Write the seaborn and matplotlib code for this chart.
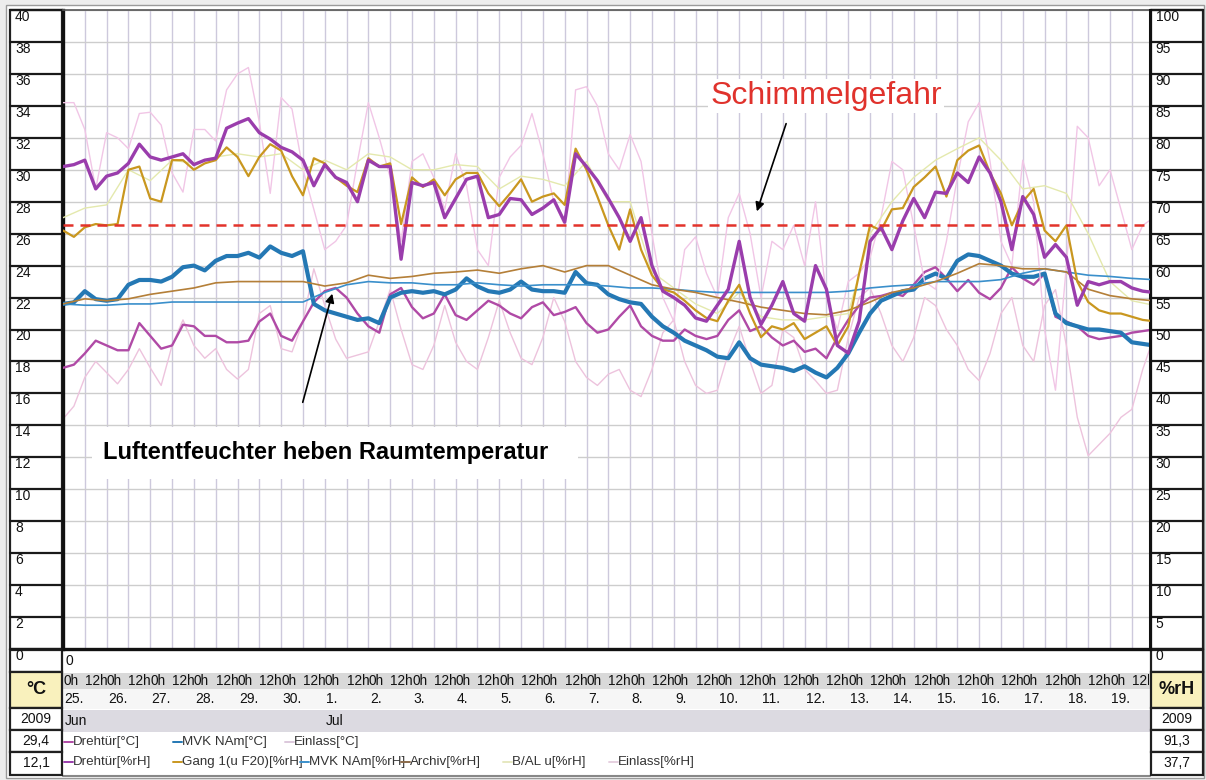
import numpy as np
import matplotlib
matplotlib.use("Agg")
import matplotlib.pyplot as plt
import matplotlib.transforms as mtransforms
from matplotlib.patches import Rectangle
import seaborn as sns

sns.set_style("white")
plt.rcParams['font.family'] = ['Liberation Sans', 'DejaVu Sans']

# ---------------- data ----------------
# time in hours after 25 Jun 2009 0h
hours_q = np.arange(0, 601, 6)     # 6-hourly readings
hours_h = np.arange(0, 601, 12)    # 12-hourly readings (smooth series)

drehtuer_rh = [75.5, 75.8, 76.5, 72.0, 74.0, 74.5, 76.0, 79.0, 77.0, 76.5, 77.0, 77.5, 75.8, 76.5, 76.8,
               81.5, 82.3, 83.0, 80.8, 79.8, 78.5, 77.8, 76.5, 72.5, 75.8,
               73.8, 73.0, 70.0, 76.5, 75.5, 75.5, 61.0, 73.0, 72.5, 73.0, 67.5, 70.5, 73.5, 74.0, 67.5,
               68.0, 70.5, 70.3, 68.0, 69.0, 70.3, 66.8, 77.5, 75.5, 73.3, 70.5,
               67.5, 63.8, 67.5, 60.0, 56.0, 55.0, 53.8, 51.8, 51.3, 53.8, 56.3, 63.8, 55.0, 50.8, 53.8,
               57.5, 52.5, 51.3, 60.0, 56.3, 47.5, 46.3, 51.3, 63.8,
               66.0, 62.5, 67.0, 70.5, 67.5, 71.5, 71.3, 74.5, 73.0, 77.0, 74.5, 70.0, 62.5, 70.8, 68.0,
               61.3, 63.3, 61.3, 53.8, 57.5, 57.0, 57.5, 57.5, 56.5, 56.0, 55.8]

gang_rh = [65.5, 64.5, 66.0, 66.5, 66.3, 66.5, 75.0, 75.5, 70.5, 70.0, 76.5, 76.5, 75.0, 76.0, 76.5,
           78.5, 77.0, 74.0, 77.0, 79.0, 78.0, 74.0, 71.0, 76.8, 76.0,
           73.8, 72.5, 71.5, 76.8, 75.5, 76.0, 66.5, 73.8, 72.3, 73.5, 71.0, 73.5, 74.5, 74.5, 71.3,
           69.3, 71.3, 73.5, 70.0, 70.8, 71.3, 69.5, 78.3, 75.0, 70.8, 66.3,
           62.5, 68.8, 62.5, 58.5, 56.3, 55.8, 54.5, 53.0, 51.8, 51.3, 54.5, 57.0, 52.5, 48.8, 50.5,
           50.0, 51.0, 48.5, 49.5, 50.5, 47.5, 50.5, 58.8, 66.3,
           65.5, 68.8, 69.0, 72.3, 73.8, 75.5, 70.8, 76.5, 78.0, 78.8, 74.5, 71.3, 66.3, 70.0, 72.0,
           65.5, 63.8, 66.3, 57.5, 54.3, 53.0, 52.5, 52.5, 52.0, 51.5, 51.3]

mvk_c = [21.6, 21.7, 22.4, 21.9, 21.8, 21.9, 22.8, 23.1, 23.1, 23.0, 23.3, 23.9, 24.0, 23.7, 24.3,
         24.6, 24.6, 24.8, 24.5, 25.2, 24.8, 24.6, 24.9, 21.6, 21.2,
         21.0, 20.8, 20.6, 20.7, 20.4, 22.0, 22.3, 22.4, 22.3, 22.4, 22.2, 22.5, 23.2, 22.7, 22.4,
         22.3, 22.5, 23.0, 22.5, 22.4, 22.4, 22.3, 23.6, 22.9, 22.8, 22.2,
         21.9, 21.7, 21.6, 20.8, 20.2, 19.8, 19.3, 19.0, 18.7, 18.3, 18.2, 19.2, 18.2, 17.8, 17.7,
         17.6, 17.4, 17.7, 17.3, 17.0, 17.6, 18.5, 19.8, 21.0,
         21.8, 22.1, 22.4, 22.5, 23.2, 23.5, 23.2, 24.3, 24.7, 24.6, 24.3, 24.0, 23.5, 23.3, 23.3,
         23.5, 21.0, 20.4, 20.2, 20.0, 20.0, 19.9, 19.8, 19.2, 19.1, 19.0]

drehtuer_c = [17.6, 17.8, 18.5, 19.3, 19.0, 18.7, 18.7, 20.4, 19.6, 18.8, 19.0, 20.3, 20.2, 19.6, 19.6,
              19.2, 19.2, 19.3, 20.5, 21.0, 19.6, 19.3, 20.5, 21.7, 22.4,
              22.6, 22.0, 21.0, 20.2, 19.8, 22.2, 22.6, 21.4, 20.7, 21.0, 22.2, 20.9, 20.6, 21.2, 21.8,
              21.5, 21.0, 20.7, 21.4, 21.7, 20.9, 21.1, 21.4, 20.4, 19.8, 20.0,
              20.8, 21.5, 20.2, 19.6, 19.3, 19.3, 20.0, 19.6, 19.4, 19.6, 20.6, 21.2, 19.9, 20.2, 19.5,
              19.0, 19.3, 18.6, 18.8, 18.2, 19.5, 20.6, 21.5, 22.0,
              22.1, 22.3, 22.1, 22.8, 23.6, 23.9, 23.2, 22.4, 23.1, 22.3, 21.9, 22.6, 23.9, 23.2, 22.8,
              23.5, 20.8, 20.5, 20.2, 19.6, 19.4, 19.5, 19.6, 19.8, 19.9, 20.0]

einlass_rh = [85.5, 85.5, 81.3, 72.0, 80.8, 80.0, 78.3, 83.8, 84.0, 82.0, 74.5, 71.5, 81.3, 81.3, 79.5,
              87.5, 90.0, 91.0, 82.5, 71.3, 86.3, 84.5,
              75.0, 68.8, 62.5, 63.8, 66.3, 76.3, 85.5, 80.0, 73.8, 63.8, 76.3, 77.5, 73.8, 68.8, 77.5,
              72.5, 62.5, 60.0, 73.8, 77.0, 78.8, 83.8, 77.5, 70.0, 66.3, 87.5, 88.0, 85.0, 77.5,
              75.0, 80.5, 76.3, 65.0, 55.0, 51.3, 62.5, 64.5, 58.8, 55.0, 67.5, 71.3, 65.0, 55.0, 63.8,
              62.5, 66.3, 60.0, 70.0, 55.0, 50.0, 57.5, 58.8, 61.3,
              67.5, 76.3, 75.0, 66.3, 57.5, 56.3, 63.8, 73.8, 82.5, 85.5, 76.3, 63.8, 60.0, 76.5, 70.0,
              50.0, 40.5, 60.0, 81.8, 80.0, 72.5, 75.0, 68.8, 62.5, 66.3, 67.5]

einlass_c = [14.4, 15.2, 17.0, 18.0, 17.3, 16.6, 17.5, 18.8, 17.6, 16.5, 19.0, 20.6, 19.0, 18.2, 18.8,
             17.5, 16.9, 17.5, 21.0, 21.5, 18.8, 18.6, 20.5, 23.8, 21.5, 19.4, 18.2, 18.4, 18.6, 20.5,
             22.5, 20.0, 17.8, 17.5, 19.0, 21.5, 19.2, 18.0, 17.5, 19.5, 21.8, 19.8, 18.2, 17.8, 19.5,
             22.0, 20.5, 18.0, 17.0, 16.5, 17.2,
             17.5, 16.2, 15.8, 17.5, 19.8, 20.6, 18.0, 16.5, 16.0, 16.2, 18.5, 20.2, 18.0, 16.0, 16.5,
             20.0, 19.5, 17.5, 16.8, 16.0, 16.2, 19.5, 22.0, 22.6,
             21.0, 19.0, 18.0, 19.5, 22.0, 21.5, 20.0, 19.0, 17.5, 16.8, 18.5, 21.0, 22.0, 19.0, 18.0,
             21.5, 22.5, 19.0, 14.5, 12.1, 12.8, 13.5, 14.5, 15.0, 17.5, 19.5]

bal_rh = [67.5, 69.0, 69.5, 75.0, 73.3, 76.5, 76.0, 77.0, 77.5, 77.0, 77.5, 75.0, 76.5, 75.0, 77.5,
          77.0, 75.0, 75.0, 75.8, 75.5, 72.0, 74.0, 73.5, 72.5, 76.3, 70.0, 70.0, 59.0, 56.5, 54.0,
          52.5, 55.8, 52.0, 51.5, 51.5, 52.0, 52.5, 65.0, 70.0, 73.8, 76.5, 78.3, 80.0, 76.5, 72.0,
          72.5, 71.3, 65.0, 57.5, 54.5, 53.8]

mvk_rh = [54.0, 53.8, 53.8, 54.0, 54.0, 54.3, 54.3, 54.3, 54.3, 54.3, 54.3, 54.3, 55.8, 57.0, 57.5,
          57.3, 57.3, 57.0, 57.0, 57.3, 57.0, 56.8, 57.0, 57.0, 57.0, 56.8, 56.5, 56.5, 56.3, 56.0,
          55.8, 55.8, 55.8, 55.8, 55.8, 55.8, 56.0, 56.5, 56.8, 57.0, 57.5, 57.5, 57.5, 57.8, 58.8,
          59.5, 59.0, 58.5, 58.3, 58.0, 57.8]

archiv_rh = [54.0, 54.8, 54.5, 54.8, 55.5, 56.0, 56.5, 57.3, 57.5, 57.5, 57.5, 57.5, 56.8, 57.3, 58.5,
             58.0, 58.3, 58.8, 59.0, 59.3, 58.8, 59.5, 60.0, 59.0, 60.0, 60.0, 58.5, 57.0, 56.3, 55.8,
             55.0, 54.3, 53.5, 53.0, 52.5, 52.3, 53.0, 54.3, 55.8, 56.5, 57.5, 58.8, 60.3, 60.0, 59.5,
             59.5, 59.0, 56.3, 55.3, 54.8, 54.5]

schimmel_rh = 66.3   # mould-risk threshold (%rH)

day_labels = ["25.", "26.", "27.", "28.", "29.", "30.", "1.", "2.", "3.", "4.", "5.", "6.", "7.",
              "8.", "9.", "10.", "11.", "12.", "13.", "14.", "15.", "16.", "17.", "18.", "19."]
month_labels = [("Jun", 0), ("Jul", 144)]
temp_ticks = list(range(0, 41, 2))
rh_ticks = list(range(0, 101, 5))
left_boxes = ["2009", "29,4", "12,1"]
right_boxes = ["2009", "91,3", "37,7"]

# ---------------- layout ----------------
W, H = 1206, 780
fig = plt.figure(figsize=(W / 100, H / 100), dpi=100)
fig.patch.set_facecolor('#ededed')

bg = fig.add_axes([0, 0, 1, 1], zorder=0)
bg.set_xlim(0, W); bg.set_ylim(H, 0); bg.axis('off')

PL, PR, PT, PB = 63, 1150, 10, 649
XMAX = 598.0

def rect(a, x, y, w, h, fc, ec='none', lw=0, z=1):
    a.add_patch(Rectangle((x, y), w, h, facecolor=fc, edgecolor=ec, linewidth=lw, zorder=z))

rect(bg, 6, 5, 1198, 773, 'white', '#9a9a9a', 1.0)
# bottom strips
rect(bg, PL, 650, PR - PL, 23, 'white')
rect(bg, PL, 673, PR - PL, 16, '#d9d9d9')
rect(bg, PL, 689, PR - PL, 20, '#f6f6f6')
rect(bg, PL, 710, PR - PL, 22, '#dcdae1')
rect(bg, PL, 732, PR - PL, 44, 'white')
bg.plot([PL, PR], [776, 776], color='#888888', lw=1.5, zorder=2)

# side columns
for x0 in (10, PR + 1):
    rect(bg, x0, PT, 52, PB - PT, 'white', '#202020', 1.6, z=2)
    for k in range(21):
        y = PT + k * (PB - PT) / 20
        bg.plot([x0, x0 + 52], [y, y], color='#1a1a1a', lw=1.6, zorder=3)
    rect(bg, x0, 650, 52, 22, 'white', '#202020', 1.6, z=2)
    rect(bg, x0, 672, 52, 36, '#f9f1bd', '#202020', 1.6, z=2)
    for j, yy in enumerate((708, 730, 752)):
        rect(bg, x0, yy, 52, 22 if j < 2 else 23, 'white', '#202020', 1.6, z=2)

bg.text(36, 690, "°C", ha='center', va='center', fontsize=13, fontweight='bold', color='#111111', zorder=4)
bg.text(1177, 690, "%rH", ha='center', va='center', fontsize=13, fontweight='bold', color='#111111', zorder=4)
for j, (a, b) in enumerate(zip(left_boxes, right_boxes)):
    yc = 719 + 22 * j
    bg.text(36, yc, a, ha='center', va='center', fontsize=10, color='#111111', zorder=4)
    bg.text(1177, yc, b, ha='center', va='center', fontsize=10, color='#111111', zorder=4)
bg.text(65, 661, "0", ha='left', va='center', fontsize=10, color='#111111', zorder=4)

# ---------------- main axes ----------------
ax = fig.add_axes([PL / W, 1 - PB / H, (PR - PL) / W, (PB - PT) / H], zorder=2)
ax.set_facecolor('white')

c_purple_rh = '#9a3dac'
c_purple_c = '#b04aa6'
c_gold = '#c9971f'
c_yellow = '#e4e9ad'
c_blue = '#2478b4'
c_blue_thin = '#3a8fcb'
c_brown = '#b47f38'
c_pink_rh = '#f1c6e6'
c_pink_c = '#edc3dd'

def draw(axis, x, y, color, lw, z):
    sns.lineplot(x=x, y=y, ax=axis, color=color, linewidth=lw, estimator=None,
                 sort=False, legend=False, zorder=z)

draw(ax, hours_q, einlass_c, c_pink_c, 1.0, 2)
draw(ax, hours_q, drehtuer_c, c_purple_c, 1.7, 4)
draw(ax, hours_q, mvk_c, c_blue, 3.0, 5)

ax2 = ax.twinx()
draw(ax2, hours_q, einlass_rh, c_pink_rh, 1.0, 1)
draw(ax2, hours_h, bal_rh, c_yellow, 1.0, 2)
draw(ax2, hours_h, mvk_rh, c_blue_thin, 1.2, 3)
draw(ax2, hours_h, archiv_rh, c_brown, 1.2, 3)
draw(ax2, hours_q, gang_rh, c_gold, 1.6, 4)
draw(ax2, hours_q, drehtuer_rh, c_purple_rh, 2.4, 5)
ax2.axhline(schimmel_rh, color='#e2332b', lw=1.8, dashes=(4, 2.8), zorder=6)

ax.set_xlim(0, XMAX)
ax.set_ylim(0, 40)
ax2.set_ylim(0, 100)
ax.set_xlabel(''); ax.set_ylabel(''); ax2.set_ylabel('')

hours12 = list(range(0, 600, 12))
ax.set_xticks(hours12, ["0h" if h % 24 == 0 else "12h" for h in hours12])
ax.set_yticks(temp_ticks, [str(v) for v in temp_ticks])
ax2.set_yticks(rh_ticks, [str(v) for v in rh_ticks])

ax.grid(True, axis='x', color='#cdc9dc', lw=1.0)
ax.grid(True, axis='y', color='#cdcdcd', lw=1.0)
ax.set_axisbelow(True)

ax.tick_params(axis='x', length=0, pad=18.3, labelsize=9.8, labelcolor='#111111')
ax.tick_params(axis='y', length=0, pad=34.5, labelsize=10, labelcolor='#111111')
ax2.tick_params(axis='y', length=0, pad=4.0, labelsize=10, labelcolor='#111111')
clipbox = mtransforms.Bbox.from_extents(0, 0, PR - 1, H)
for lab in ax.get_xticklabels():
    lab.set_horizontalalignment('left')
    lab.set_clip_box(clipbox)
    lab.set_clip_on(True)
for lab in ax.get_yticklabels():
    lab.set_horizontalalignment('left')
    lab.set_verticalalignment('top')
for lab in ax2.get_yticklabels():
    lab.set_verticalalignment('top')

for sp in ('left', 'bottom'):
    ax.spines[sp].set_color('#111111'); ax.spines[sp].set_linewidth(2.4)
ax.spines['top'].set_color('#555555'); ax.spines['top'].set_linewidth(1.2)
ax.spines['right'].set_visible(False)
for sp in ('left', 'top', 'bottom'):
    ax2.spines[sp].set_visible(False)
ax2.spines['right'].set_color('#111111'); ax2.spines['right'].set_linewidth(2.2)

# day and month labels under the hour row
trans = mtransforms.blended_transform_factory(ax.transData, bg.transData)
for d, lab in enumerate(day_labels):
    ax.text(d * 24 + 0.8, 699, lab, transform=trans, ha='left', va='center',
            fontsize=10, color='#111111', clip_on=False)
for lab, h in month_labels:
    ax.text(h + 0.8, 721, lab, transform=trans, ha='left', va='center',
            fontsize=10, color='#111111', clip_on=False)

# ---------------- legend (drawn as in the software) ----------------
legend_rows = [
    (742, [(64, "Drehtür[°C]", c_purple_c), (173, "MVK NAm[°C]", c_blue), (285, "Einlass[°C]", '#dcc8dc')]),
    (762, [(64, "Drehtür[%rH]", c_purple_rh), (173, "Gang 1(u F20)[%rH]", c_gold),
           (300, "MVK NAm[%rH]", c_blue_thin), (401, "Archiv[%rH]", '#8a6a4a'),
           (503, "B/AL u[%rH]", '#e6e8c0'), (609, "Einlass[%rH]", '#e6d0e0')]),
]
for yrow, items in legend_rows:
    for x0, lab, col in items:
        bg.plot([x0, x0 + 9], [yrow, yrow], color=col, lw=1.4, zorder=5)
        bg.text(x0 + 9, yrow, lab, ha='left', va='center', fontsize=9.6, color='#333333', zorder=5)

# ---------------- annotations ----------------
ov = fig.add_axes([0, 0, 1, 1], zorder=5)
ov.set_xlim(0, W); ov.set_ylim(H, 0); ov.axis('off')
ov.text(826, 96, "Schimmelgefahr", ha='center', va='center', fontsize=23, color='#e0322c',
        bbox=dict(facecolor='white', edgecolor='none', pad=1.5))
ov.annotate("", xy=(756, 214), xytext=(787, 121),
            arrowprops=dict(arrowstyle='-|>', color='black', lw=1.2, mutation_scale=13))
ov.add_patch(Rectangle((92, 427), 486, 52, facecolor='white', edgecolor='none', zorder=1))
ov.text(103, 452, "Luftentfeuchter heben Raumtemperatur", ha='left', va='center', fontsize=17,
        fontweight='bold', color='black', zorder=2)
ov.annotate("", xy=(333, 291), xytext=(302, 405),
            arrowprops=dict(arrowstyle='-|>', color='black', lw=1.2, mutation_scale=13))

fig.savefig("out.png", dpi=100, facecolor=fig.get_facecolor())
